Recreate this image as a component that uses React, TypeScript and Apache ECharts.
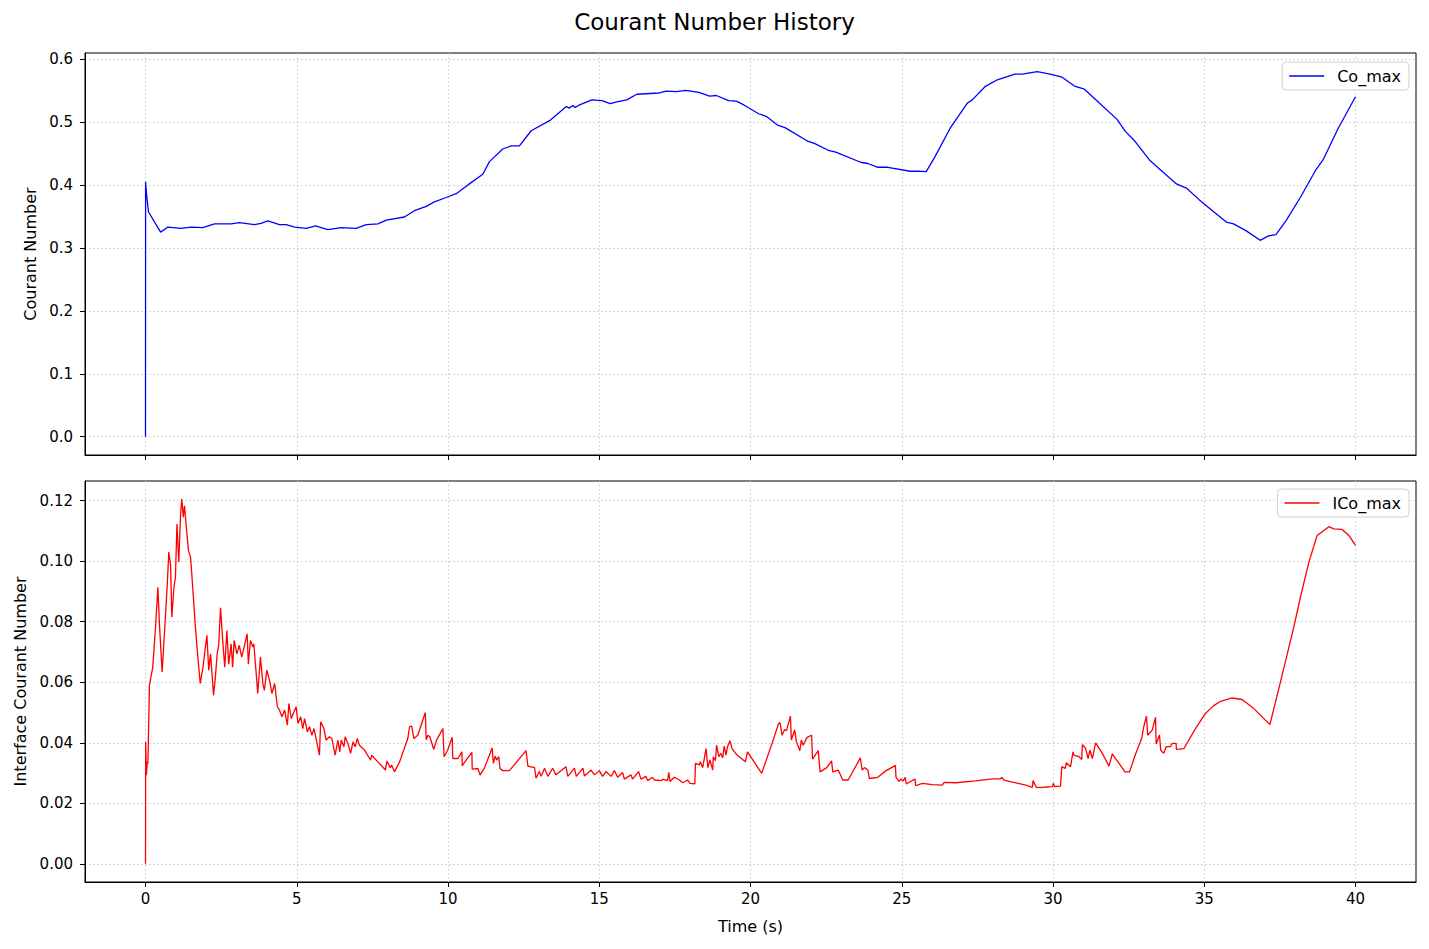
import React, { useEffect, useRef } from "react";
import * as echarts from "echarts";

const coTime = [0, 0.003, 0.03, 0.1, 0.5, 0.74, 1.18, 1.51, 1.89, 2.28, 2.83, 3.11, 3.6, 3.82, 4.04, 4.43, 4.65, 4.93, 5.31, 5.62, 6.03, 6.47, 6.96, 7.3, 7.68, 7.96, 8.56, 8.89, 9.28, 9.55, 9.94, 10.27, 10.66, 11.15, 11.37, 11.81, 12.09, 12.36, 12.75, 13.36, 13.91, 14.0, 14.13, 14.2, 14.35, 14.76, 15.09, 15.36, 15.58, 15.91, 16.24, 16.98, 17.22, 17.55, 17.85, 18.29, 18.65, 18.87, 19.28, 19.53, 19.78, 20.27, 20.52, 20.89, 21.14, 21.91, 22.11, 22.57, 22.82, 23.64, 23.88, 24.21, 24.54, 25.28, 25.53, 25.81, 26.1, 26.6, 27.17, 27.33, 27.75, 28.16, 28.74, 28.98, 29.48, 29.9, 30.3, 30.71, 31.04, 31.53, 32.11, 32.39, 32.68, 33.18, 33.67, 34.08, 34.41, 34.82, 35.32, 35.73, 35.97, 36.39, 36.85, 37.12, 37.37, 37.7, 38.2, 38.69, 38.93, 39.43, 40.0];
const coValue = [0, 0.405, 0.387, 0.357, 0.325, 0.333, 0.331, 0.333, 0.332, 0.338, 0.338, 0.34, 0.337, 0.339, 0.343, 0.337, 0.337, 0.333, 0.331, 0.335, 0.329, 0.332, 0.331, 0.337, 0.338, 0.344, 0.349, 0.359, 0.366, 0.373, 0.38, 0.386, 0.4, 0.417, 0.437, 0.457, 0.462, 0.462, 0.486, 0.502, 0.5245, 0.522, 0.526, 0.523, 0.527, 0.535, 0.534, 0.529, 0.532, 0.535, 0.544, 0.546, 0.549, 0.548, 0.55, 0.547, 0.541, 0.542, 0.534, 0.533, 0.527, 0.513, 0.509, 0.495, 0.491, 0.469, 0.466, 0.455, 0.452, 0.436, 0.434, 0.428, 0.428, 0.4217, 0.422, 0.421, 0.445, 0.49, 0.53, 0.535, 0.556, 0.567, 0.576, 0.576, 0.58, 0.576, 0.571, 0.557, 0.552, 0.53, 0.5045, 0.485, 0.471, 0.44, 0.419, 0.4015, 0.395, 0.377, 0.357, 0.341, 0.338, 0.327, 0.312, 0.319, 0.321, 0.343, 0.382, 0.424, 0.44, 0.49, 0.54];

const icoTime = [0, 0.005, 0.03, 0.06, 0.08, 0.13, 0.24, 0.33, 0.41, 0.46, 0.55, 0.66, 0.72, 0.77, 0.83, 0.87, 0.94, 0.99, 1.04, 1.1, 1.16, 1.2, 1.25, 1.29, 1.36, 1.42, 1.49, 1.53, 1.65, 1.73, 1.81, 1.9, 1.98, 2.03, 2.09, 2.15, 2.25, 2.31, 2.37, 2.42, 2.48, 2.56, 2.62, 2.69, 2.75, 2.83, 2.88, 2.93, 3.02, 3.1, 3.18, 3.26, 3.36, 3.4, 3.47, 3.55, 3.58, 3.66, 3.71, 3.8, 3.88, 3.93, 4.01, 4.1, 4.18, 4.27, 4.36, 4.43, 4.51, 4.6, 4.69, 4.74, 4.82, 4.9, 4.98, 5.04, 5.13, 5.2, 5.26, 5.35, 5.42, 5.5, 5.57, 5.75, 5.79, 5.9, 5.97, 6.08, 6.16, 6.27, 6.36, 6.42, 6.47, 6.56, 6.6, 6.69, 6.78, 6.86, 6.93, 7.0, 7.07, 7.24, 7.44, 7.48, 7.68, 7.93, 7.98, 8.09, 8.14, 8.23, 8.4, 8.67, 8.73, 8.8, 8.87, 9.0, 9.25, 9.28, 9.34, 9.4, 9.53, 9.62, 9.83, 9.87, 9.99, 10.14, 10.16, 10.33, 10.46, 10.47, 10.6, 10.79, 10.8, 10.99, 11.06, 11.21, 11.46, 11.5, 11.56, 11.61, 11.68, 11.72, 11.81, 12.03, 12.58, 12.64, 12.86, 12.91, 13.02, 13.08, 13.19, 13.3, 13.46, 13.57, 13.9, 13.96, 14.18, 14.24, 14.46, 14.51, 14.73, 14.84, 15.0, 15.11, 15.22, 15.39, 15.5, 15.61, 15.77, 15.83, 16.05, 16.1, 16.3, 16.38, 16.54, 16.6, 16.76, 16.82, 17.07, 17.1, 17.26, 17.3, 17.34, 17.48, 17.65, 17.76, 17.92, 18.0, 18.16, 18.18, 18.31, 18.34, 18.42, 18.53, 18.59, 18.66, 18.75, 18.77, 18.84, 18.88, 18.95, 19.02, 19.08, 19.13, 19.19, 19.24, 19.32, 19.39, 19.54, 19.83, 19.9, 20.12, 20.37, 20.73, 20.93, 20.98, 21.04, 21.13, 21.19, 21.32, 21.35, 21.46, 21.52, 21.63, 21.68, 21.74, 21.87, 22.02, 22.05, 22.24, 22.3, 22.52, 22.68, 22.72, 22.9, 23.05, 23.23, 23.63, 23.69, 23.77, 23.88, 23.93, 24.21, 24.48, 24.76, 24.79, 24.81, 24.92, 24.97, 25.05, 25.11, 25.15, 25.29, 25.44, 25.46, 25.68, 26.01, 26.34, 26.4, 26.78, 27.44, 27.99, 28.27, 28.3, 28.38, 29.1, 29.32, 29.34, 29.45, 29.7, 29.98, 30.01, 30.05, 30.25, 30.29, 30.4, 30.44, 30.58, 30.66, 30.69, 30.86, 30.95, 30.97, 31.08, 31.16, 31.22, 31.3, 31.41, 31.63, 31.85, 31.96, 32.07, 32.38, 32.53, 32.73, 32.93, 33.0, 33.09, 33.13, 33.28, 33.39, 33.41, 33.52, 33.56, 33.66, 33.74, 33.88, 33.94, 34.07, 34.08, 34.33, 34.7, 35.04, 35.3, 35.54, 35.92, 36.25, 36.64, 37.17, 37.52, 37.96, 38.2, 38.46, 38.73, 39.12, 39.28, 39.56, 39.78, 40.0];
const icoValue = [0, 0.0403, 0.0293, 0.0337, 0.0332, 0.059, 0.065, 0.078, 0.0914, 0.0793, 0.0634, 0.082, 0.0925, 0.103, 0.0986, 0.0815, 0.0914, 0.0947, 0.1123, 0.0997, 0.1156, 0.1205, 0.1145, 0.1183, 0.11, 0.1035, 0.1013, 0.0958, 0.0782, 0.0683, 0.0596, 0.065, 0.0716, 0.0755, 0.064, 0.0694, 0.0557, 0.0617, 0.0694, 0.0722, 0.0846, 0.0727, 0.065, 0.0771, 0.066, 0.0727, 0.065, 0.0738, 0.0694, 0.0722, 0.0683, 0.0716, 0.076, 0.066, 0.0738, 0.0716, 0.0727, 0.0628, 0.0563, 0.0683, 0.0596, 0.0573, 0.064, 0.0606, 0.0563, 0.0596, 0.0519, 0.0508, 0.0486, 0.0508, 0.0458, 0.053, 0.048, 0.05, 0.0519, 0.0464, 0.0486, 0.0447, 0.048, 0.0436, 0.0453, 0.0425, 0.0447, 0.0359, 0.0469, 0.0447, 0.0409, 0.042, 0.0414, 0.0359, 0.0409, 0.037, 0.0409, 0.0387, 0.042, 0.0398, 0.0365, 0.0403, 0.0387, 0.0414, 0.0392, 0.0376, 0.0343, 0.0359, 0.0337, 0.031, 0.034, 0.0318, 0.0326, 0.0304, 0.0337, 0.0414, 0.0453, 0.0455, 0.0414, 0.0425, 0.05, 0.041, 0.0425, 0.042, 0.0378, 0.0409, 0.0447, 0.0354, 0.0376, 0.0418, 0.0348, 0.0348, 0.037, 0.0324, 0.0343, 0.0368, 0.0313, 0.0315, 0.0293, 0.0318, 0.0383, 0.0332, 0.0356, 0.0343, 0.0354, 0.0315, 0.0308, 0.0308, 0.0374, 0.0323, 0.0318, 0.0283, 0.0305, 0.0289, 0.0316, 0.0289, 0.0316, 0.0294, 0.0321, 0.0289, 0.0316, 0.0289, 0.0316, 0.029, 0.031, 0.0294, 0.0308, 0.0289, 0.0305, 0.0289, 0.0308, 0.0286, 0.0302, 0.028, 0.0294, 0.028, 0.0305, 0.028, 0.0289, 0.0275, 0.0286, 0.0277, 0.0275, 0.028, 0.0275, 0.0302, 0.0272, 0.0286, 0.0277, 0.0268, 0.0277, 0.0266, 0.0264, 0.0332, 0.0327, 0.0337, 0.0318, 0.0381, 0.0318, 0.0343, 0.031, 0.0354, 0.0341, 0.0392, 0.0354, 0.0365, 0.035, 0.0389, 0.0359, 0.0387, 0.0407, 0.0381, 0.0361, 0.0337, 0.037, 0.0337, 0.0299, 0.0403, 0.0464, 0.0466, 0.0425, 0.0444, 0.044, 0.0488, 0.0409, 0.0442, 0.0403, 0.0374, 0.0409, 0.0392, 0.0418, 0.0425, 0.0346, 0.0374, 0.0304, 0.0318, 0.034, 0.0304, 0.031, 0.0277, 0.0277, 0.035, 0.031, 0.0318, 0.031, 0.0282, 0.0286, 0.0308, 0.0323, 0.0326, 0.0286, 0.0272, 0.028, 0.0274, 0.0286, 0.0264, 0.0272, 0.028, 0.0258, 0.0266, 0.0262, 0.026, 0.0269, 0.0268, 0.0274, 0.0281, 0.0281, 0.0286, 0.0277, 0.026, 0.0253, 0.0275, 0.0252, 0.0253, 0.0255, 0.0266, 0.0255, 0.0257, 0.0321, 0.0315, 0.0334, 0.0321, 0.037, 0.0359, 0.0354, 0.0345, 0.0394, 0.0381, 0.0348, 0.0376, 0.0348, 0.04, 0.0365, 0.0323, 0.0363, 0.0348, 0.0304, 0.0304, 0.0363, 0.0414, 0.0453, 0.0488, 0.0425, 0.0442, 0.0484, 0.0396, 0.0426, 0.0376, 0.0365, 0.0387, 0.0387, 0.0398, 0.0398, 0.0378, 0.0381, 0.0445, 0.0497, 0.0522, 0.0537, 0.0548, 0.0543, 0.0513, 0.046, 0.0601, 0.0782, 0.089, 0.0997, 0.1085, 0.1114, 0.1107, 0.1105, 0.1085, 0.1052];

const xTicks = [0, 5, 10, 15, 20, 25, 30, 35, 40];
const coTicks = [0, 0.1, 0.2, 0.3, 0.4, 0.5, 0.6];
const icoTicks = [0, 0.02, 0.04, 0.06, 0.08, 0.1, 0.12];

const FONT = "DejaVu Sans";

export default function App() {
  const ref = useRef<HTMLDivElement>(null);
  useEffect(() => {
    if (!ref.current) return;
    const chart = echarts.init(ref.current, null, { renderer: "svg" });
    const coData = coTime.map((t, i) => [t, coValue[i]]);
    const icoData = icoTime.map((t, i) => [t, icoValue[i]]);
    const gridLine = { show: true, lineStyle: { color: "#c4c4c4", type: [1.5, 2.5] as any, width: 0.9 } };
    const xAxisBase = (gi: number, labels: boolean) => ({
      type: "value",
      gridIndex: gi,
      min: -2,
      max: 42,
      axisLine: { show: true, onZero: false, lineStyle: { color: "#000", width: 1 } },
      axisTick: { show: true, length: 5, lineStyle: { color: "#000" }, customValues: xTicks },
      axisLabel: { show: labels, customValues: xTicks, color: "#000", fontFamily: FONT, fontSize: 15, margin: 9 },
      splitLine: gridLine,
      name: labels ? "Time (s)" : "",
      nameLocation: "middle",
      nameGap: 36,
      nameTextStyle: { color: "#000", fontFamily: FONT, fontSize: 16 },
    });
    const yAxisBase = (gi: number, min: number, max: number, ticks: number[], dec: number, name: string, gap: number) => ({
      type: "value",
      gridIndex: gi,
      min,
      max,
      axisLine: { show: true, onZero: false, lineStyle: { color: "#000", width: 1 } },
      axisTick: { show: true, length: 5, lineStyle: { color: "#000" }, customValues: ticks },
      axisLabel: {
        customValues: ticks,
        color: "#000",
        fontFamily: FONT,
        fontSize: 15,
        margin: 12,
        formatter: (v: number) => v.toFixed(dec),
      },
      splitLine: gridLine,
      name,
      nameLocation: "middle",
      nameGap: gap,
      nameTextStyle: { color: "#000", fontFamily: FONT, fontSize: 16 },
    });
    const legendBase = (top: number, name: string) => ({
      top,
      right: 20,
      orient: "vertical",
      data: [{ name, icon: "rect" }],
      itemWidth: 35,
      itemHeight: 1.4,
      itemGap: 10,
      padding: [6, 8, 6, 7],
      borderColor: "#d0d0d0",
      borderWidth: 1,
      borderRadius: 4,
      backgroundColor: "rgba(255,255,255,0.8)",
      textStyle: { color: "#000", fontFamily: FONT, fontSize: 16, padding: [0, 0, 0, 8] },
    });
    chart.setOption({
      animation: false,
      backgroundColor: "#fff",
      title: {
        text: "Courant Number History",
        left: "center",
        top: 10,
        padding: 0,
        textStyle: { color: "#000", fontFamily: FONT, fontSize: 23, fontWeight: "normal" },
      },
      grid: [
        { left: 85, right: 13, top: 53, height: 402, show: true, borderColor: "#000", borderWidth: 1, backgroundColor: "transparent" },
        { left: 85, right: 13, top: 481, height: 401, show: true, borderColor: "#000", borderWidth: 1, backgroundColor: "transparent" },
      ],
      legend: [legendBase(62, "Co_max"), legendBase(489, "ICo_max")],
      xAxis: [xAxisBase(0, false), xAxisBase(1, true)],
      yAxis: [
        yAxisBase(0, -0.029, 0.6095, coTicks, 1, "Courant Number", 46),
        yAxisBase(1, -0.006, 0.1265, icoTicks, 2, "Interface Courant Number", 57),
      ],
      series: [
        {
          name: "Co_max",
          type: "line",
          xAxisIndex: 0,
          yAxisIndex: 0,
          data: coData,
          showSymbol: false,
          symbol: "none",
          lineStyle: { color: "#0000ff", width: 1.3 },
          itemStyle: { color: "#0000ff" },
        },
        {
          name: "ICo_max",
          type: "line",
          xAxisIndex: 1,
          yAxisIndex: 1,
          data: icoData,
          showSymbol: false,
          symbol: "none",
          lineStyle: { color: "#ff0000", width: 1.3 },
          itemStyle: { color: "#ff0000" },
        },
      ],
    });
    return () => chart.dispose();
  }, []);
  return (
    <div
      ref={ref}
      style={{ position: "absolute", left: 0, top: 0, width: 1429, height: 949, background: "#fff" }}
    />
  );
}
